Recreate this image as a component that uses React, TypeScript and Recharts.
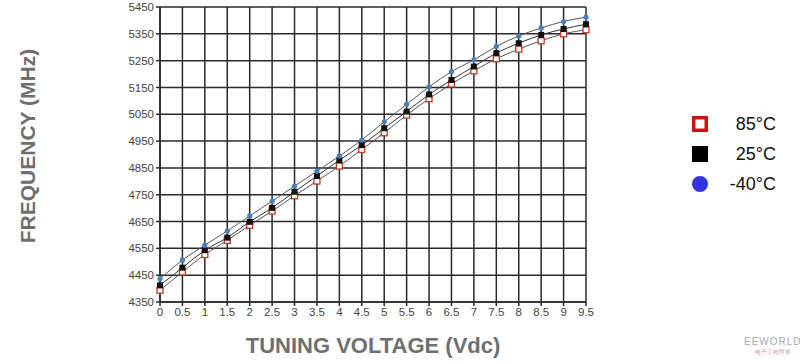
import React from "react";
import {
  LineChart,
  Line,
  XAxis,
  YAxis,
  CartesianGrid,
} from "recharts";

const voltages = [0, 0.5, 1, 1.5, 2, 2.5, 3, 3.5, 4, 4.5, 5, 5.5, 6, 6.5, 7, 7.5, 8, 8.5, 9, 9.5];
const freq85 = [4394, 4462, 4527, 4580, 4636, 4689, 4746, 4801, 4857, 4919, 4981, 5047, 5108, 5163, 5212, 5257, 5293, 5324, 5350, 5365];
const freq25 = [4412, 4478, 4543, 4590, 4649, 4701, 4761, 4820, 4879, 4935, 4998, 5060, 5124, 5178, 5228, 5278, 5315, 5346, 5368, 5386];
const freqM40 = [4437, 4506, 4562, 4615, 4671, 4726, 4782, 4838, 4894, 4954, 5022, 5087, 5152, 5209, 5253, 5303, 5342, 5372, 5396, 5412];
const yTicks = [4350, 4450, 4550, 4650, 4750, 4850, 4950, 5050, 5150, 5250, 5350, 5450];

const data = voltages.map((v, i) => ({
  v,
  t85: freq85[i],
  t25: freq25[i],
  tm40: freqM40[i],
}));

const legendItems = [
  { key: "85", label: "85°C" },
  { key: "25", label: "25°C" },
  { key: "m40", label: "-40°C" },
];

const font = "Arial, 'Liberation Sans', sans-serif";

const RedDot = (p: any) => (
  <rect x={p.cx - 3} y={p.cy - 3} width={6} height={6} fill="#fff" stroke="#c0392b" strokeWidth={1.3} />
);
const BlackDot = (p: any) => (
  <rect x={p.cx - 3} y={p.cy - 3} width={6} height={6} fill="#111" />
);
const BlueDot = (p: any) => (
  <circle cx={p.cx} cy={p.cy} r={2.6} fill="#4a80b8" />
);

function LegendBox() {
  return (
    <div style={{ position: "absolute", left: 692, top: 109, fontFamily: font, fontSize: 18, color: "#111" }}>
      {legendItems.map((it) => (
        <div key={it.key} style={{ display: "flex", alignItems: "center", height: 30 }}>
          <svg width={16} height={16} style={{ marginRight: 16 }}>
            {it.key === "85" && <rect x={1.75} y={1.75} width={12.5} height={12.5} fill="#fff" stroke="#d01010" strokeWidth={3.5} />}
            {it.key === "25" && <rect x={0} y={0} width={16} height={16} fill="#000" />}
            {it.key === "m40" && <circle cx={8} cy={8} r={8} fill="#3434e0" />}
          </svg>
          <span style={{ width: 52, textAlign: "right" }}>{it.label}</span>
        </div>
      ))}
    </div>
  );
}

export default function App() {
  return (
    <div style={{ position: "absolute", left: 0, top: 0, width: 800, height: 364, background: "#fff" }}>
      <LineChart
        width={800}
        height={364}
        data={data}
        margin={{ top: 7, right: 214, left: 0, bottom: 0 }}
      >
        <CartesianGrid stroke="#2a2a2a" strokeWidth={1.5} />
        <XAxis
          dataKey="v"
          type="number"
          domain={[0, 9.5]}
          ticks={voltages}
          interval={0}
          stroke="#2a2a2a"
          strokeWidth={1.5}
          tickSize={4}
          tick={{ fill: "#444", fontSize: 11.5, fontFamily: font }}
          height={62}
          label={{
            value: "TUNING VOLTAGE (Vdc)",
            position: "insideBottom",
            offset: 11,
            fill: "#6f6f6f",
            fontSize: 22,
            fontWeight: "bold",
            fontFamily: font,
          }}
        />
        <YAxis
          type="number"
          domain={[4350, 5450]}
          ticks={yTicks}
          interval={0}
          width={160}
          stroke="#2a2a2a"
          strokeWidth={1.5}
          tickSize={4}
          tick={{ fill: "#444", fontSize: 11.5, fontFamily: font }}
        />
        <Line type="monotone" dataKey="t85" name="85°C" stroke="#555" strokeWidth={1} dot={<RedDot />} isAnimationActive={false} />
        <Line type="monotone" dataKey="t25" name="25°C" stroke="#333" strokeWidth={1} dot={<BlackDot />} isAnimationActive={false} />
        <Line type="monotone" dataKey="tm40" name="-40°C" stroke="#555" strokeWidth={1} dot={<BlueDot />} isAnimationActive={false} />
      </LineChart>
      <svg style={{ position: "absolute", left: 0, top: 0 }} width={60} height={364}>
        <text
          x={0}
          y={0}
          transform="translate(35,146) rotate(-90)"
          textAnchor="middle"
          fill="#6f6f6f"
          fontSize={21}
          fontWeight="bold"
          fontFamily={font}
        >
          FREQUENCY (MHz)
        </text>
      </svg>
      <LegendBox />
      <div
        style={{
          position: "absolute",
          left: 744,
          top: 336,
          fontFamily: font,
          fontSize: 10,
          color: "#a8a8a8",
          lineHeight: "11px",
          textAlign: "center",
        }}
      >
        <div style={{ letterSpacing: 1 }}>EEWORLD</div>
        <div style={{ fontSize: 6, color: "#d59a9a" }}>电子工程世界</div>
      </div>
    </div>
  );
}
